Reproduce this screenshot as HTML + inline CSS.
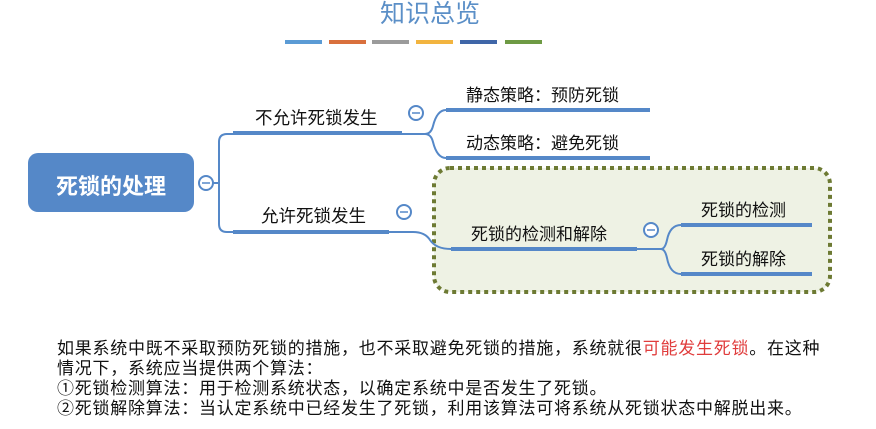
<!DOCTYPE html>
<html><head><meta charset="utf-8"><style>
body{margin:0;width:876px;height:429px;background:#fff;overflow:hidden;position:relative;font-family:"Liberation Sans","Noto Sans CJK SC",sans-serif;}
.t{position:absolute;left:57px;top:339px;font-size:17px;letter-spacing:0.75px;line-height:20px;color:#111;white-space:nowrap;}
.r{color:#e03c3c;}
</style></head><body>
<svg width="876" height="429" style="position:absolute;left:0;top:0" font-family="Liberation Sans, Noto Sans CJK SC, sans-serif">
<text x="430" y="22" font-size="25" fill="#5b8fc7" text-anchor="middle">知识总览</text>
<g stroke-width="4">
<line x1="285" y1="42" x2="322" y2="42" stroke="#5b9bd5"/>
<line x1="329" y1="42" x2="366" y2="42" stroke="#d9703d"/>
<line x1="372" y1="42" x2="409" y2="42" stroke="#9b9b9b"/>
<line x1="416" y1="42" x2="453" y2="42" stroke="#f2b43f"/>
<line x1="460" y1="42" x2="497" y2="42" stroke="#3f66a8"/>
<line x1="505" y1="42" x2="542" y2="42" stroke="#6e9a44"/>
</g>
<rect x="434" y="168" width="396" height="124" rx="16" fill="#eef2e4" stroke="#6d7a33" stroke-width="4" stroke-dasharray="4 4"/>
<rect x="28" y="153" width="166" height="59" rx="10" fill="#5588c8"/>
<text x="111" y="194" font-size="22" font-weight="bold" fill="#fff" text-anchor="middle">死锁的处理</text>
<g fill="none" stroke="#5588c8" stroke-width="2">
<path d="M200 183 H219 V142 Q219 134 227 134 H233"/>
<path d="M219 183 V224 Q219 232 227 232 H233"/>
<path d="M402 134 H425 Q431 134 433 126 Q437 110 446 110"/>
<path d="M425 134 Q431 134 433 142 Q437 158 446 158"/>
<path d="M389 232 H413 Q425 232 430 240 Q436 249 451 249"/>
<path d="M637 249 H661 Q665 249 667 240 Q670 225 681 225"/>
<path d="M661 249 Q665 249 667 258 Q670 274 681 274"/>
<circle cx="206" cy="183" r="7" fill="#fff"/>
<circle cx="416" cy="113" r="7" fill="#fff"/>
<circle cx="404" cy="212" r="7" fill="#fff"/>
<circle cx="651" cy="230" r="7" fill="#fff"/>
</g>
<g stroke="#5588c8" stroke-width="1.5"><line x1="202" y1="183" x2="210" y2="183"/><line x1="412" y1="113" x2="420" y2="113"/><line x1="400" y1="212" x2="408" y2="212"/><line x1="647" y1="230" x2="655" y2="230"/></g>
<g stroke="#5588c8" stroke-width="4">
<line x1="233" y1="133" x2="402" y2="133"/>
<line x1="233" y1="232" x2="389" y2="232"/>
<line x1="446" y1="110" x2="650" y2="110"/>
<line x1="446" y1="158" x2="650" y2="158"/>
<line x1="451" y1="249" x2="637" y2="249"/>
<line x1="681" y1="225" x2="812" y2="225"/>
<line x1="681" y1="274" x2="812" y2="274"/>
</g>
<g font-size="17.5" fill="#111">
<text x="255" y="124">不允许死锁发生</text>
<text x="261" y="222">允许死锁发生</text>
<text x="466" y="101" font-size="17">静态策略：预防死锁</text>
<text x="466" y="149" font-size="17">动态策略：避免死锁</text>
<text x="471" y="240" font-size="17">死锁的检测和解除</text>
<text x="701" y="216" font-size="17">死锁的检测</text>
<text x="701" y="265" font-size="17">死锁的解除</text>
</g>
</svg>
<div class="t">如果系统中既不采取预防死锁的措施，也不采取避免死锁的措施，系统就很<span class="r">可能发生死锁</span>。在这种<br>情况下，系统应当提供两个算法：<br>①死锁检测算法：用于检测系统状态，以确定系统中是否发生了死锁。<br>②死锁解除算法：当认定系统中已经发生了死锁，利用该算法可将系统从死锁状态中解脱出来。</div>
</body></html>
